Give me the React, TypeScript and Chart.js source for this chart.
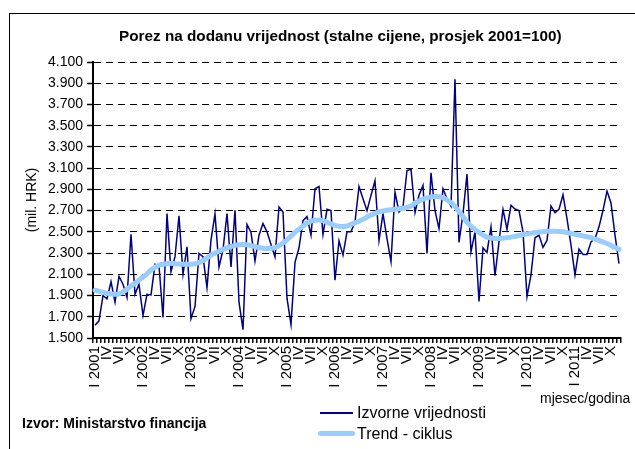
import React, { useEffect, useRef } from "react";
import { Chart, registerables } from "chart.js";

Chart.register(...registerables);

const years = [2001, 2002, 2003, 2004, 2005, 2006, 2007, 2008, 2009, 2010, 2011];
const romanMonths = ["I", "II", "III", "IV", "V", "VI", "VII", "VIII", "IX", "X", "XI", "XII"];
const categories = years.flatMap((y) => romanMonths.map((m, i) => (i === 0 ? `I ${y}` : m)));

// Izvorne vrijednosti (mil. HRK), I 2001 – XII 2011
const izvorne = [
  1619, 1662, 1900, 1869, 2031, 1837, 2081, 2006, 1881, 2478, 1912, 2006,
  1712, 1912, 1906, 2194, 2181, 1694, 2672, 2125, 2266, 2650, 2100, 2359,
  1681, 1797, 2297, 2266, 1975, 2422, 2669, 2169, 2331, 2672, 2169, 2703,
  1837, 1578, 2569, 2494, 2225, 2469, 2578, 2500, 2381, 2263, 2734, 2687,
  1875, 1625, 2212, 2350, 2605, 2644, 2469, 2906, 2928, 2475, 2712, 2700,
  2044, 2416, 2281, 2500, 2500, 2594, 2928, 2812, 2700, 2844, 2981, 2419,
  2672, 2437, 2219, 2875, 2687, 2734, 3078, 3090, 2681, 2844, 2937, 2297,
  3056, 2700, 2531, 2906, 2812, 2741, 3937, 2400, 2672, 3044, 2312, 2500,
  1844, 2350, 2306, 2547, 2087, 2406, 2712, 2525, 2750, 2715, 2700, 2500,
  1890, 2094, 2444, 2469, 2353, 2419, 2744, 2681, 2712, 2850, 2625, 2375,
  2094, 2337, 2287, 2287, 2406, 2437, 2547, 2703, 2884, 2772, 2469, 2200,
];

// Trend - ciklus
const trend = [
  1950, 1940, 1930, 1922, 1915, 1912, 1915, 1935, 1960, 1990, 2015, 2045,
  2075, 2105, 2140, 2165, 2185, 2195, 2200, 2203, 2200, 2196, 2194, 2194,
  2195, 2200, 2210, 2230, 2255, 2280, 2300, 2318, 2335, 2350, 2362, 2372,
  2378, 2381, 2378, 2370, 2360, 2352, 2346, 2344, 2345, 2352, 2370, 2395,
  2425, 2460, 2495, 2525, 2555, 2585, 2602, 2610, 2612, 2605, 2590, 2575,
  2560, 2552, 2550, 2555, 2570, 2585, 2600, 2618, 2640, 2660, 2675, 2688,
  2697, 2703, 2708, 2712, 2718, 2722, 2730, 2745, 2770, 2790, 2808, 2820,
  2828, 2832, 2831, 2822, 2800, 2775, 2740, 2690, 2645, 2590, 2555, 2520,
  2495, 2470, 2450, 2442, 2438, 2437, 2440, 2445, 2450, 2458, 2465, 2475,
  2482, 2488, 2494, 2498, 2502, 2505, 2506, 2506, 2504, 2500, 2493, 2486,
  2478, 2470, 2462, 2454, 2445, 2432, 2420, 2405, 2390, 2372, 2352, 2335,
];

const yMin = 1500;
const yMax = 4100;
const yStep = 200;

const FONT = '"Liberation Sans", Arial, Helvetica, sans-serif';

export default function App() {
  const canvasRef = useRef<HTMLCanvasElement | null>(null);

  useEffect(() => {
    const canvas = canvasRef.current;
    if (!canvas) return;
    const chart = new Chart(canvas, {
      type: "line",
      data: {
        labels: categories,
        datasets: [
          {
            label: "Izvorne vrijednosti",
            data: izvorne,
            borderColor: "#000080",
            borderWidth: 1.5,
            pointRadius: 0,
            tension: 0,
            order: 1,
          },
          {
            label: "Trend - ciklus",
            data: trend,
            borderColor: "#99CCFF",
            borderWidth: 5,
            pointRadius: 0,
            tension: 0.4,
            borderCapStyle: "round",
            order: 0,
          },
        ],
      },
      options: {
        responsive: false,
        animation: false,
        devicePixelRatio: 1,
        layout: { padding: { top: 62, right: 2, bottom: 0, left: 0 } },
        plugins: {
          legend: { display: false },
          title: { display: false },
          tooltip: { enabled: false },
        },
        scales: {
          x: {
            type: "category",
            offset: true,
            grid: {
              offset: true,
              drawOnChartArea: false,
              drawTicks: true,
              tickLength: 5,
              color: "#000",
              lineWidth: 1.5,
            },
            border: { color: "#000", width: 2 },
            ticks: {
              autoSkip: false,
              maxRotation: 90,
              minRotation: 90,
              padding: 3,
              color: "#000",
              font: { family: FONT, size: 15 },
              callback: (_v: any, i: number) => (i % 3 === 0 ? categories[i] : ""),
            },
            afterFit: (s: any) => {
              s.height = 111;
            },
          },
          y: {
            min: yMin,
            max: yMax,
            ticks: {
              stepSize: yStep,
              color: "#000",
              padding: 4,
              font: { family: FONT, size: 14 },
              callback: (v: any) => (Number(v) / 1000).toFixed(3),
            },
            grid: {
              color: "#000",
              lineWidth: 1,
              tickLength: 6,
              tickWidth: 1.5,
              tickBorderDash: [],
            },
            border: { color: "#000", width: 2, dash: [7, 5] },
            afterFit: (s: any) => {
              s.width = 93;
            },
          },
        },
      },
    } as any);
    return () => chart.destroy();
  }, []);

  const abs = (o: React.CSSProperties): React.CSSProperties => ({
    position: "absolute",
    fontFamily: FONT,
    color: "#000",
    whiteSpace: "nowrap",
    ...o,
  });

  return (
    <div
      style={{
        position: "fixed",
        left: 0,
        top: 0,
        width: 635,
        height: 449,
        overflow: "hidden",
        background: "#fff",
      }}
    >
      <div style={{ position: "absolute", left: 9, top: 13, width: 700, height: 600, border: "1px solid #000" }} />
      <canvas
        ref={canvasRef}
        width={640}
        height={449}
        style={{ position: "absolute", left: 0, top: 0, width: 640, height: 449, display: "block" }}
      />
      <div style={abs({ left: 119, top: 27, fontWeight: "bold", fontSize: 15.3, lineHeight: "18px" })}>
        Porez na dodanu vrijednost (stalne cijene, prosjek 2001=100)
      </div>
      <div
        style={abs({
          left: -9,
          top: 191,
          width: 80,
          height: 18,
          lineHeight: "18px",
          textAlign: "center",
          fontSize: 14,
          transform: "rotate(-90deg)",
          transformOrigin: "50% 50%",
        })}
      >
        (mil. HRK)
      </div>
      <div style={abs({ left: 22, top: 414, fontWeight: "bold", fontSize: 14, lineHeight: "18px" })}>
        Izvor: Ministarstvo financija
      </div>
      <div style={abs({ left: 540, top: 389, fontSize: 14, lineHeight: "18px" })}>mjesec/godina</div>
      <div style={abs({ left: 320, top: 412, width: 33, height: 2, background: "#000080" })} />
      <div style={abs({ left: 357, top: 403, fontSize: 16, lineHeight: "20px" })}>Izvorne vrijednosti</div>
      <div style={abs({ left: 318, top: 431, width: 37, height: 5, borderRadius: 3, background: "#99CCFF" })} />
      <div style={abs({ left: 357, top: 424, fontSize: 16, lineHeight: "20px" })}>Trend - ciklus</div>
    </div>
  );
}
